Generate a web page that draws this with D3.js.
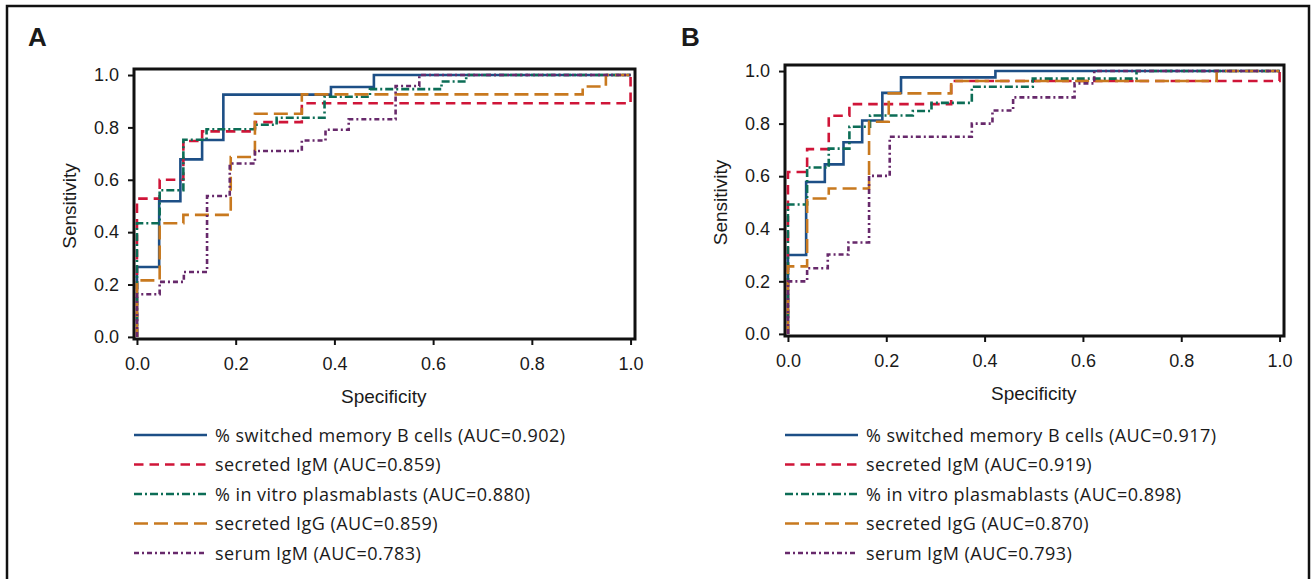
<html>
<head>
<meta charset="utf-8">
<style>
  body { margin: 0; background: #fff; }
  text { fill: #1a1a1a; }
</style>
</head>
<body>
<svg width="1312" height="579"></svg>

<script src="https://d3js.org/d3.v7.min.js"></script>
<script>
// markers, in legend order
var markers = ["% switched memory B cells", "secreted IgM", "% in vitro plasmablasts", "secreted IgG", "serum IgM"]
var aucA = ["0.902", "0.859", "0.880", "0.859", "0.783"]
var aucB = ["0.917", "0.919", "0.898", "0.870", "0.793"]
var tickValues = [0, 0.2, 0.4, 0.6, 0.8, 1.0]

// ROC steps: [x, sensitivity], each y holds until the next x
var switchedA = [[0, 0], [0, 0.267], [0.045, 0.518], [0.088, 0.678], [0.132, 0.752], [0.175, 0.925], [0.393, 0.954], [0.48, 1], [1, 1]]
var igmA = [[0, 0], [0, 0.528], [0.046, 0.60], [0.094, 0.748], [0.132, 0.785], [0.239, 0.82], [0.334, 0.892], [1, 1]]
var plasmaA = [[0, 0], [0, 0.434], [0.046, 0.56], [0.094, 0.753], [0.141, 0.793], [0.239, 0.81], [0.283, 0.837], [0.38, 0.917], [0.472, 0.946], [0.617, 0.975], [0.667, 1], [1, 1]]
var iggA = [[0, 0], [0, 0.216], [0.046, 0.434], [0.094, 0.466], [0.19, 0.687], [0.239, 0.852], [0.334, 0.926], [0.903, 0.956], [0.95, 1], [1, 1]]
var serumA = [[0, 0], [0, 0.163], [0.046, 0.21], [0.095, 0.248], [0.142, 0.538], [0.188, 0.662], [0.239, 0.71], [0.334, 0.75], [0.382, 0.791], [0.429, 0.831], [0.524, 0.958], [0.572, 1], [1, 1]]

var switchedB = [[0, 0], [0, 0.30], [0.037, 0.578], [0.075, 0.645], [0.113, 0.729], [0.151, 0.812], [0.192, 0.917], [0.23, 0.976], [0.422, 1], [1, 1]]
var igmB = [[0, 0], [0, 0.616], [0.039, 0.703], [0.083, 0.83], [0.125, 0.874], [0.332, 0.962], [1, 1]]
var plasmaB = [[0, 0], [0, 0.492], [0.039, 0.633], [0.083, 0.705], [0.125, 0.788], [0.167, 0.831], [0.254, 0.848], [0.292, 0.879], [0.374, 0.94], [0.498, 0.971], [0.709, 1], [1, 1]]
var iggB = [[0, 0], [0, 0.257], [0.039, 0.515], [0.083, 0.553], [0.165, 0.807], [0.205, 0.915], [0.332, 0.962], [0.872, 1], [1, 1]]
var serumB = [[0, 0], [0, 0.2], [0.039, 0.25], [0.081, 0.302], [0.123, 0.348], [0.165, 0.601], [0.207, 0.75], [0.374, 0.80], [0.416, 0.85], [0.458, 0.90], [0.583, 0.953], [0.623, 1], [1, 1]]

// styles per marker
var colors = ["#1d4f86", "#cf1538", "#0c6d56", "#c8791f", "#67296b"]
var dashes = [null, "9.5,6", "8,3,2,3", "14,6", "5,3,2,3"]

var svg = d3.select("svg")

// outer frame, open at the bottom of the picture
svg.append("rect")
  .attr("x", 7).attr("y", 6)
  .attr("width", 1302).attr("height", 620)
  .attr("fill", "none")
  .attr("stroke", "#111")
  .attr("stroke-width", 2.5)

var panels = [
  { letter: "A", x: 134, y: 69, w: 501, h: 270, curves: [switchedA, igmA, plasmaA, iggA, serumA], auc: aucA, letterX: 28, legendX: 134 },
  { letter: "B", x: 785, y: 65, w: 499, h: 271, curves: [switchedB, igmB, plasmaB, iggB, serumB], auc: aucB, letterX: 681, legendX: 785 }
]

panels.forEach(drawPanel)

function drawPanel(p) {
  var g = svg.append("g")

  var x = d3.scaleLinear().domain([-0.006, 1.009]).range([p.x, p.x + p.w])
  var y = d3.scaleLinear().domain([-0.008, 1.023]).range([p.y + p.h, p.y])

  g.append("text")
    .attr("x", p.letterX).attr("y", 46)
    .attr("font-family", "Liberation Sans, Arial, sans-serif")
    .attr("font-weight", "bold")
    .attr("font-size", 26)
    .text(p.letter)

  // axes
  var yAxis = g.append("g")
    .attr("transform", "translate(" + p.x + ",0)")
    .call(d3.axisLeft(y).tickValues(tickValues).tickFormat(d3.format(".1f")).tickSize(6).tickPadding(9).tickSizeOuter(0))
  var xAxis = g.append("g")
    .attr("transform", "translate(0," + (p.y + p.h) + ")")
    .call(d3.axisBottom(x).tickValues(tickValues).tickFormat(d3.format(".1f")).tickSize(6).tickPadding(12).tickSizeOuter(0))
  ;[xAxis, yAxis].forEach(function (a) {
    a.select(".domain").remove()
    a.selectAll("line").attr("stroke", "#111").attr("stroke-width", 2)
    a.selectAll("text")
      .attr("fill", "#1a1a1a")
      .attr("font-family", "Liberation Sans, Arial, sans-serif")
      .attr("font-size", 18)
  })

  g.append("rect")
    .attr("x", p.x).attr("y", p.y)
    .attr("width", p.w).attr("height", p.h)
    .attr("fill", "none")
    .attr("stroke", "#111")
    .attr("stroke-width", 3)

  g.append("text")
    .attr("x", (x(0) + x(1)) / 2).attr("y", p.y + p.h + 64)
    .attr("text-anchor", "middle")
    .attr("font-family", "Liberation Sans, sans-serif")
    .attr("font-size", 19)
    .text("Specificity")

  g.append("text")
    .attr("transform", "translate(" + (p.x - 58) + "," + ((y(0) + y(1)) / 2) + ") rotate(-90)")
    .attr("text-anchor", "middle")
    .attr("font-family", "Liberation Sans, sans-serif")
    .attr("font-size", 19)
    .text("Sensitivity")

  // ROC curves as steps
  var line = d3.line()
    .x(function (d) { return x(d[0]) })
    .y(function (d) { return y(d[1]) })
    .curve(d3.curveStepAfter)

  p.curves.forEach(function (c, i) {
    g.append("path")
      .attr("d", line(c))
      .attr("fill", "none")
      .attr("stroke", colors[i])
      .attr("stroke-width", 2.6)
      .attr("stroke-dasharray", dashes[i])
  })

  // legend
  var leg = g.append("g")
  markers.forEach(function (m, i) {
    var ly = 435 + i * 29.5
    leg.append("line")
      .attr("x1", p.legendX).attr("x2", p.legendX + 73)
      .attr("y1", ly).attr("y2", ly)
      .attr("stroke", colors[i])
      .attr("stroke-width", 2.6)
      .attr("stroke-dasharray", dashes[i])
    leg.append("text")
      .attr("x", p.legendX + 81).attr("y", ly + 6.5)
      .attr("font-family", "Open Sans, Lato, sans-serif")
      .attr("font-size", 18)
      .attr("letter-spacing", 0.45)
      .text(m + " (AUC=" + p.auc[i] + ")")
  })
}
</script>
</body>
</html>
